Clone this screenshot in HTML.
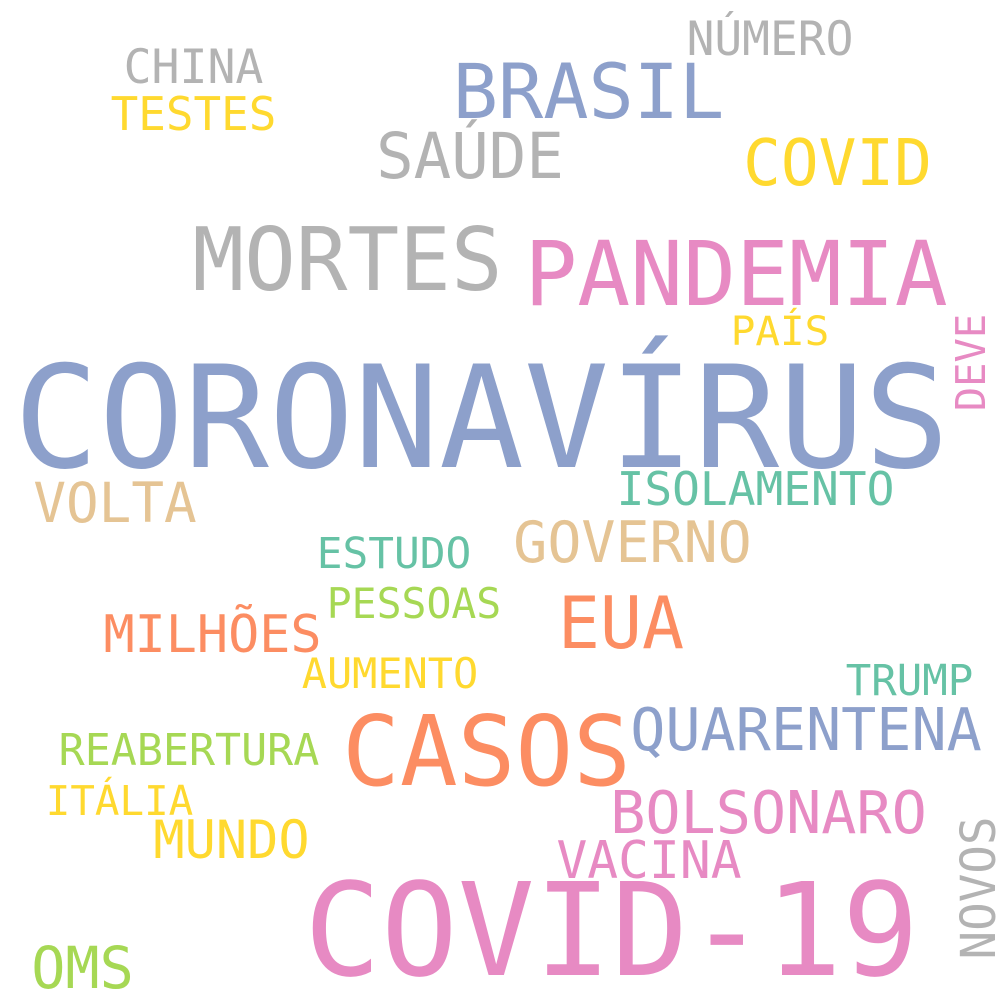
<!DOCTYPE html>
<html><head><meta charset="utf-8"><style>
html,body{margin:0;padding:0;background:#fff;}
svg{display:block;}
text{font-family:"DejaVu Sans Mono","Liberation Mono",monospace;}
</style></head>
<body>
<svg id="cloud" width="1000" height="1000" viewBox="0 0 1000 1000" xmlns="http://www.w3.org/2000/svg">
<rect width="1000" height="1000" fill="#fff"/>
</svg>
<script>
const words = ["NÚMERO","CHINA","TESTES","BRASIL","SAÚDE","COVID","MORTES","PANDEMIA","PAÍS","DEVE","CORONAVÍRUS","VOLTA","ISOLAMENTO","GOVERNO","ESTUDO","PESSOAS","EUA","MILHÕES","AUMENTO","TRUMP","CASOS","QUARENTENA","REABERTURA","ITÁLIA","BOLSONARO","MUNDO","VACINA","NOVOS","COVID-19","OMS"];
const weights = [47,47,46,76,63,64,87,89,40,41,142,55,46,57,43,42,72,52,42,43,97,59,44,41,59,53,52,48,129,58];
const colors = ["#b3b3b3","#b3b3b3","#ffd92f","#8da0cb","#b3b3b3","#ffd92f","#b3b3b3","#e78ac3","#ffd92f","#e78ac3","#8da0cb","#e5c494","#66c2a5","#e5c494","#66c2a5","#a6d854","#fc8d62","#fc8d62","#ffd92f","#66c2a5","#fc8d62","#8da0cb","#a6d854","#ffd92f","#e78ac3","#ffd92f","#e78ac3","#b3b3b3","#e78ac3","#a6d854"];
// layout: [ink-left (or bottom for vertical), ink-right (or top), baseline, vertical]
const layout = [[688,852,55,0],[125,262,83,0],[112,275,130,0],[455,722,118,0],[378,562,178,0],[745,930,185,0],[195,500,290,0],[527,945,305,0],[732,828,345,0],[410,315,985,1],[18,945,467,0],[35,195,522,0],[618,893,505,0],[515,750,562,0],[318,470,568,0],[328,500,618,0],[560,682,648,0],[105,320,652,0],[303,477,688,0],[847,972,695,0],[345,628,785,0],[632,980,750,0],[60,318,765,0],[47,192,815,0],[612,925,833,0],[155,308,858,0],[558,740,878,0],[958,818,995,1],[308,915,975,0],[33,132,988,0]];
const svg = document.getElementById('cloud');
const NS = "http://www.w3.org/2000/svg";
words.forEach((w, i) => {
  const s = weights[i];
  const [a, b, base, vert] = layout[i];
  const t = document.createElementNS(NS, 'text');
  
  
  t.setAttribute('font-size', s);
  t.setAttribute('fill', colors[i]);
  const len = Math.abs(b - a);
  t.setAttribute('textLength', len + 0.06 * s);
  t.setAttribute('lengthAdjust', 'spacingAndGlyphs');
  if (vert) {
    const x = base, y = a + 0.03 * s;
    t.setAttribute('x', x);
    t.setAttribute('y', y);
    t.setAttribute('transform', 'rotate(-90 ' + x + ' ' + y + ')');
  } else {
    t.setAttribute('x', a - 0.03 * s);
    t.setAttribute('y', base);
  }
  t.textContent = w;
  svg.appendChild(t);
});
</script>
</body></html>
